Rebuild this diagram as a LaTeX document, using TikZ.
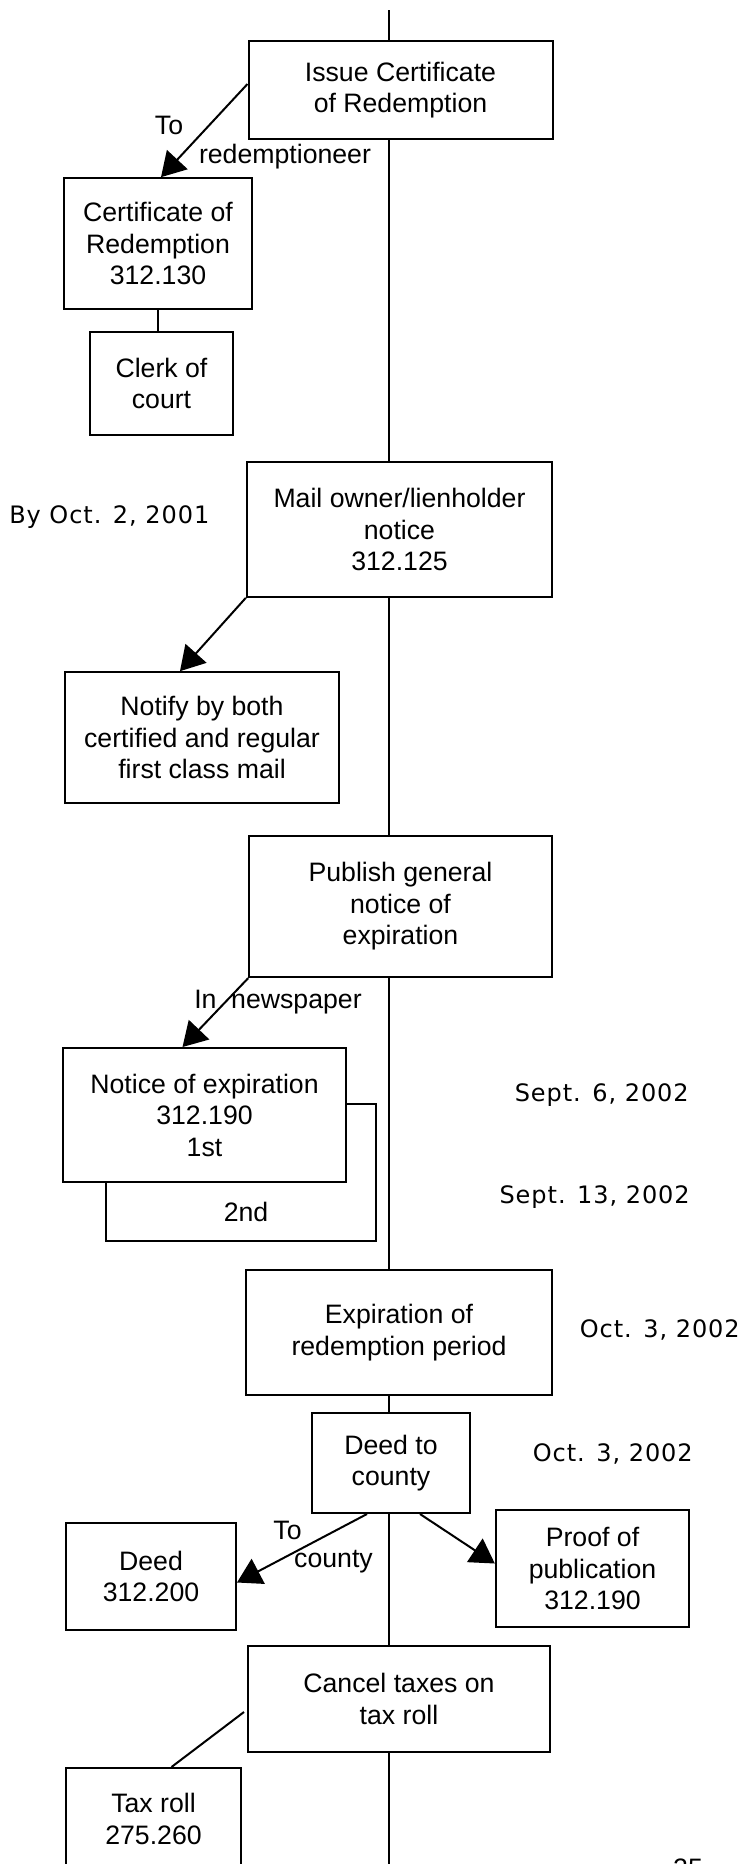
\documentclass[tikz,border=0pt]{standalone}
\usepackage{fontspec}
\setmainfont{Liberation Sans}
\newfontfamily\datefont[LetterSpace=4]{DejaVu Sans}
\usetikzlibrary{arrows.meta,calc}

\begin{document}
\begin{tikzpicture}[x=0.75pt,y=-0.75pt,
  blk/.style={draw,fill=white,line width=1.5pt,align=center,inner sep=0pt,
    font=\fontsize{20}{23.6}\selectfont},
  lbl/.style={inner sep=0pt,font=\fontsize{20}{23.6}\selectfont},
  dte/.style={inner sep=0pt,font=\datefont\fontsize{18}{21}\selectfont},
  lnk/.style={line width=1.5pt},
  arr/.style={line width=1.5pt,-{Triangle[length=18pt,width=21pt]}}]
\useasboundingbox (0,0) rectangle (742,1864);

\node[blk,minimum width=228pt,minimum height=73.5pt] (issue) at (400.5,90) {Issue Certificate\\of Redemption};
\node[blk,minimum width=141pt,minimum height=98pt] (certred) at (158,243.5) {Certificate of\\Redemption\\312.130};
\node[blk,minimum width=107pt,minimum height=77pt] (clerk) at (161.5,383.5) {Clerk of\\court};
\node[blk,minimum width=229pt,minimum height=101pt] (mail) at (399.5,529.5) {Mail owner/lienholder\\notice\\312.125};
\node[blk,minimum width=205.5pt,minimum height=98pt] (notify) at (202,737.5) {Notify by both\\certified and regular\\first class mail};
\node[blk,minimum width=227pt,minimum height=106pt] (publish) at (400.5,906.5) {Publish general\\notice of\\expiration};
\node[blk,minimum width=202.5pt,minimum height=103pt] (second) at (241,1172.5) {};
\node[lbl] (secondlbl) at (246,1212) {2nd};
\node[blk,minimum width=212pt,minimum height=100.5pt] (notice) at (204.5,1115) {Notice of expiration\\312.190\\1st};
\node[blk,minimum width=229.5pt,minimum height=94pt] (expir) at (399,1332.5) {Expiration of\\redemption period};
\node[blk,minimum width=118.5pt,minimum height=75pt] (deedc) at (391,1463) {Deed to\\county};
\node[blk,minimum width=127.5pt,minimum height=80pt] (deed) at (151,1576.5) {Deed\\312.200};
\node[blk,minimum width=145pt,minimum height=88pt] (proof) at (592.5,1568.5) {Proof of\\publication\\312.190};
\node[blk,minimum width=226.5pt,minimum height=79.5pt] (cancel) at (399,1699) {Cancel taxes on\\tax roll};
\begin{scope}
\clip (0,0) rectangle (742,1864);
\node[blk,minimum width=131pt,minimum height=76.5pt] (taxroll) at (153.5,1819) {Tax roll\\275.260};
\node[lbl,anchor=north] (pageno) at (688,1859) {25};
\end{scope}

\node[lbl] (to1) at (169,125) {To};
\node[lbl] (redeem) at (285,157) {redemptioneer};
\node[lbl] (innews) at (278,1002) {In\hspace{11pt}newspaper};
\node[lbl] (to2) at (287.5,1530) {To};
\node[lbl] (county) at (333.5,1562) {county};

\node[dte,anchor=west] (bydate) at (9,517) {By Oct. 2, 2001};
\node[dte,anchor=east] (sept6) at (689,1095) {Sept. 6, 2002};
\node[dte,anchor=east] (sept13) at (690,1197) {Sept. 13, 2002};
\node[dte,anchor=east] (oct3a) at (740,1330) {Oct. 3, 2002};
\node[dte,anchor=east] (oct3b) at (693,1454) {Oct. 3, 2002};

\coordinate (spinetop) at (389,10);
\coordinate (spinebot) at (389,1864);
\draw[lnk] (spinetop) -- (spinetop |- issue.north);
\foreach \a/\b in {issue/mail,mail/publish,publish/expir,expir/deedc,deedc/cancel}
  \draw[lnk] (spinetop |- \a.south) -- (spinetop |- \b.north);
\draw[lnk] (spinetop |- cancel.south) -- (spinebot);

\draw[arr] ($(issue.west)+(0,-6)$) -- ($(certred.north)+(3,0)$);
\draw[lnk] (certred.south) -- (certred.south |- clerk.north);
\draw[arr] (mail.south west) -- ($(notify.north)+(-22,0)$);
\draw[arr] (publish.south west) -- ($(notice.north)+(-22,0)$);
\draw[arr] ($(deedc.south)+(-24,0)$) -- ($(deed.east)+(0,6)$);
\draw[arr] ($(deedc.south)+(29,0)$) -- ($(proof.west)+(0,-5)$);
\draw[lnk] ($(cancel.west)+(-3,13)$) -- ($(taxroll.north)+(18,0)$);
\end{tikzpicture}
\end{document}
